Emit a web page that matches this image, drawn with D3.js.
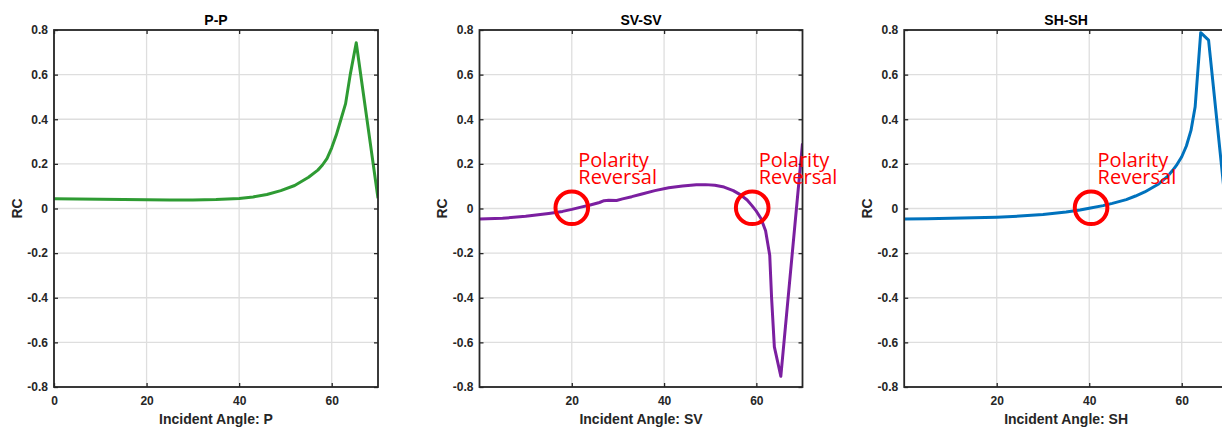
<!DOCTYPE html>
<html>
<head>
<meta charset="utf-8">
<script src="https://cdn.jsdelivr.net/npm/d3@7"></script>
<style>
  html, body { margin: 0; padding: 0; background: #fff; overflow: hidden; }
  svg { display: block; }
</style>
</head>
<body>
<svg id="chart" width="1222" height="427"></svg>
<script>
// ---------------- DATA ----------------
const panelTitles = ["P-P", "SV-SV", "SH-SH"];
const xLabels = ["Incident Angle: P", "Incident Angle: SV", "Incident Angle: SH"];
const yLabel = "RC";
const yTicks = [-0.8, -0.6, -0.4, -0.2, 0, 0.2, 0.4, 0.6, 0.8];
const xTicksP = [0, 20, 40, 60];
const xTicksS = [20, 40, 60];

const anglesPP = [0, 5, 10, 15, 20, 25, 30, 35, 40, 43, 46, 49, 52, 55, 57, 58, 59, 60, 61, 62, 63, 64, 65.3, 70];
const rcPP     = [0.044, 0.043, 0.042, 0.040, 0.039, 0.038, 0.038, 0.040, 0.045, 0.052, 0.063, 0.080, 0.103, 0.140, 0.172, 0.195, 0.225, 0.272, 0.33, 0.40, 0.47, 0.60, 0.743, 0.046];

const anglesSV = [0, 5, 10, 15, 18, 20, 22, 24, 26, 27, 28, 29.7, 31, 33, 35, 38, 41, 44, 47, 49, 51, 53, 55, 56.5, 58, 59, 60, 61, 62, 62.9, 63.3, 63.9, 65.3, 70];
const rcSV     = [-0.047, -0.044, -0.035, -0.022, -0.013, -0.004, 0.006, 0.016, 0.027, 0.035, 0.037, 0.036, 0.043, 0.053, 0.064, 0.080, 0.093, 0.101, 0.106, 0.107, 0.104, 0.096, 0.080, 0.062, 0.038, 0.014, -0.012, -0.045, -0.10, -0.21, -0.40, -0.62, -0.752, 0.292];

const anglesSH = [0, 5, 10, 15, 20, 25, 30, 35, 38, 40, 43, 45, 48, 50, 52, 55, 57, 58, 59, 60, 61, 62, 62.9, 64.1, 65.8, 70];
const rcSH     = [-0.047, -0.046, -0.044, -0.042, -0.039, -0.034, -0.027, -0.016, -0.007, 0.001, 0.013, 0.023, 0.040, 0.056, 0.074, 0.110, 0.145, 0.170, 0.198, 0.232, 0.280, 0.350, 0.456, 0.788, 0.755, -0.09];

// polarity reversal annotations (angle where RC crosses zero)
const reversalSV = [20, 59.1];
const reversalSH = [40.4];
const annotationLines = ["Polarity", "Reversal"];

// ---------------- LAYOUT ----------------
const svg = d3.select("#chart");
const plotTop = 30, plotBottom = 387;
const panels = [
  { title: panelTitles[0], xlab: xLabels[0], angles: anglesPP, rc: rcPP, color: "#2e9b33", left: 54, right: 378, xt: xTicksP, rev: [], rcX: 22 },
  { title: panelTitles[1], xlab: xLabels[1], angles: anglesSV, rc: rcSV, color: "#7b1fa0", left: 479.5, right: 802.5, xt: xTicksS, rev: reversalSV, rcX: 447 },
  { title: panelTitles[2], xlab: xLabels[2], angles: anglesSH, rc: rcSH, color: "#0072bd", left: 904.2, right: 1228, xt: xTicksS, rev: reversalSH, rcX: 872 }
];

const axisColor = "#262626";
const fontAxis = "'Liberation Sans', Arial, sans-serif";

panels.forEach((p, i) => {
  const x = d3.scaleLinear().domain([0, 70]).range([p.left, p.right]);
  const y = d3.scaleLinear().domain([-0.8, 0.8]).range([plotBottom, plotTop]);
  const g = svg.append("g");

  const clipId = "clip" + i;
  svg.append("clipPath").attr("id", clipId).append("rect")
    .attr("x", p.left).attr("y", plotTop).attr("width", p.right - p.left).attr("height", plotBottom - plotTop);

  // grid
  const grid = g.append("g").attr("stroke", "#dedede").attr("stroke-width", 1.3);
  grid.selectAll("line.gx").data(p.xt).enter().append("line")
    .attr("x1", d => x(d)).attr("x2", d => x(d)).attr("y1", plotTop).attr("y2", plotBottom);
  grid.selectAll("line.gy").data(yTicks).enter().append("line")
    .attr("y1", d => y(d)).attr("y2", d => y(d)).attr("x1", p.left).attr("x2", p.right);

  const fmt = d => (Math.round(d * 10) / 10).toString();
  const yAxisL = d3.axisLeft(y).tickValues(yTicks).tickFormat(fmt).tickSize(-4).tickPadding(6);
  const yAxisR = d3.axisRight(y).tickValues(yTicks).tickFormat("").tickSize(-4);
  const xAxisB = d3.axisBottom(x).tickValues(p.xt).tickFormat(d3.format("d")).tickSize(-4).tickPadding(9);
  const xAxisT = d3.axisTop(x).tickValues(p.xt).tickFormat("").tickSize(-4);

  function styleAxis(sel) {
    sel.select(".domain").remove();
    sel.selectAll(".tick line").attr("stroke", axisColor).attr("stroke-width", 1.3);
    sel.selectAll(".tick text").attr("fill", axisColor).style("font-family", fontAxis)
      .style("font-size", "12px").style("font-weight", "bold");
  }

  // data line
  const line = d3.line().x((d, k) => x(p.angles[k])).y(d => y(d)).curve(d3.curveLinear);
  g.append("path").datum(p.rc)
    .attr("clip-path", "url(#" + clipId + ")")
    .attr("fill", "none").attr("stroke", p.color).attr("stroke-width", 3)
    .attr("stroke-linejoin", "round").attr("d", line);

  g.append("g").attr("transform", `translate(${p.left},0)`).call(yAxisL).call(styleAxis);
  g.append("g").attr("transform", `translate(${p.right},0)`).call(yAxisR).call(styleAxis);
  g.append("g").attr("transform", `translate(0,${plotBottom})`).call(xAxisB).call(styleAxis);
  g.append("g").attr("transform", `translate(0,${plotTop})`).call(xAxisT).call(styleAxis);

  // box
  g.append("rect").attr("x", p.left).attr("y", plotTop).attr("width", p.right - p.left).attr("height", plotBottom - plotTop)
    .attr("fill", "none").attr("stroke", axisColor).attr("stroke-width", 1.8);

  // title
  g.append("text").attr("x", (p.left + p.right) / 2).attr("y", 25).attr("text-anchor", "middle")
    .attr("fill", "#000").style("font-family", fontAxis).style("font-size", "14px").style("font-weight", "bold")
    .text(p.title);

  // x label
  g.append("text").attr("x", (p.left + p.right) / 2).attr("y", 424).attr("text-anchor", "middle")
    .attr("fill", axisColor).style("font-family", fontAxis).style("font-size", "14px").style("font-weight", "bold")
    .text(p.xlab);

  // y label
  g.append("text").attr("transform", `translate(${p.rcX},${(plotTop + plotBottom) / 2}) rotate(-90)`)
    .attr("text-anchor", "middle").attr("fill", axisColor)
    .style("font-family", fontAxis).style("font-size", "14px").style("font-weight", "bold")
    .text(yLabel);

  // polarity reversal annotations
  p.rev.forEach(a => {
    const cx = x(a), cy = y(0);
    g.append("circle").attr("cx", cx).attr("cy", cy - 0.7).attr("r", 16.3)
      .attr("fill", "none").attr("stroke", "#ff0000").attr("stroke-width", 4);
    const t = g.append("text").attr("fill", "#ff0000")
      .style("font-family", "'Open Sans', sans-serif").style("font-size", "20px");
    annotationLines.forEach((s, k) => {
      t.append("tspan").attr("x", cx + 6.5).attr("y", cy - 41.5 + k * 17).text(s);
    });
  });
});
</script>
</body>
</html>
